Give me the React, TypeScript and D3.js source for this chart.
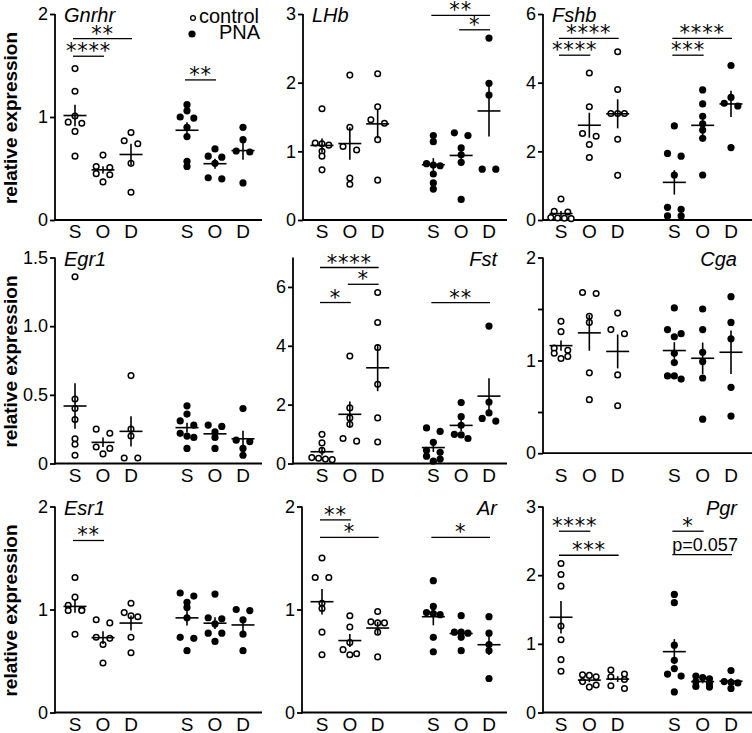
import React, { useEffect, useRef } from 'react';
import * as d3 from 'd3';

const categories = ['S', 'O', 'D'];
const groups = ['control', 'PNA'];

// relative expression per animal, rows are S, O, D
const gnrhrControl = [
  [1.47, 1.25, 1.01, 0.95, 0.94, 0.86, 0.62],
  [0.63, 0.52, 0.51, 0.45, 0.44, 0.37],
  [0.85, 0.77, 0.74, 0.55, 0.27],
];
const gnrhrPNA = [
  [1.12, 1.06, 1.0, 0.99, 0.9, 0.81, 0.57, 0.52],
  [0.69, 0.62, 0.61, 0.55, 0.41, 0.4],
  [0.9, 0.78, 0.67, 0.66, 0.36],
];
const lhbControl = [
  [1.62, 1.12, 1.11, 1.09, 1.0, 0.93, 0.73],
  [2.11, 1.35, 1.07, 1.02, 0.61, 0.52],
  [2.13, 1.65, 1.46, 1.41, 1.17, 0.58],
];
const lhbPNA = [
  [1.23, 1.14, 0.82, 0.8, 0.79, 0.67, 0.54, 0.45],
  [1.27, 1.23, 1.05, 0.95, 0.84, 0.3],
  [2.65, 1.99, 1.82, 0.74, 0.74],
];
const fshbControl = [
  [0.61, 0.25, 0.23, 0.07, 0.06, 0.05, 0.04],
  [4.28, 3.3, 2.52, 2.44, 2.2, 1.82],
  [4.9, 3.8, 3.1, 3.1, 3.1, 2.35, 1.3],
];
const fshbPNA = [
  [2.74, 1.94, 1.86, 1.31, 0.37, 0.31, 0.12, 0.12],
  [3.79, 3.38, 3.02, 2.8, 2.62, 2.38, 1.31],
  [4.5, 3.57, 3.4, 3.32, 2.11],
];
const egr1Control = [
  [1.36, 0.47, 0.4, 0.32, 0.18, 0.14, 0.06],
  [0.25, 0.22, 0.12, 0.11, 0.07],
  [0.64, 0.25, 0.2, 0.04, 0.04],
];
const egr1PNA = [
  [0.42, 0.36, 0.31, 0.28, 0.22, 0.2, 0.19, 0.11],
  [0.28, 0.27, 0.23, 0.19, 0.11],
  [0.4, 0.17, 0.16, 0.11, 0.06],
];
const fstControl = [
  [0.99, 0.7, 0.45, 0.2, 0.18, 0.15, 0.13],
  [3.65, 1.89, 1.55, 1.33, 0.85, 0.76],
  [5.81, 4.79, 3.94, 2.69, 1.55, 0.73],
];
const fstPNA = [
  [1.21, 1.09, 0.72, 0.45, 0.38, 0.25, 0.15, 0.08],
  [2.07, 1.59, 1.3, 0.99, 0.97, 0.85],
  [4.67, 2.09, 1.72, 1.53, 1.44],
];
const cgaControl = [
  [1.38, 1.28, 1.12, 1.1, 1.07, 1.04, 1.02],
  [1.66, 1.65, 1.43, 1.37, 0.88, 0.62],
  [1.46, 1.3, 1.26, 0.86, 0.56],
];
const cgaPNA = [
  [1.51, 1.3, 1.26, 1.23, 1.07, 0.98, 0.85, 0.85, 0.82],
  [1.5, 1.3, 1.08, 0.99, 0.83, 0.43],
  [1.62, 1.37, 1.21, 0.74, 0.46],
];
const esr1Control = [
  [1.31, 1.12, 1.04, 1.0, 0.99, 0.99, 0.76],
  [0.9, 0.87, 0.73, 0.72, 0.66, 0.48],
  [1.06, 0.97, 0.94, 0.93, 0.73, 0.58],
];
const esr1PNA = [
  [1.16, 1.13, 1.07, 1.02, 0.92, 0.73, 0.72, 0.6],
  [1.15, 0.92, 0.91, 0.86, 0.77, 0.77, 0.69],
  [1.0, 0.99, 0.9, 0.76, 0.6],
];
const arControl = [
  [1.5, 1.31, 1.31, 1.06, 1.01, 0.78, 0.56],
  [0.94, 0.83, 0.68, 0.61, 0.57, 0.56],
  [0.98, 0.88, 0.87, 0.87, 0.78, 0.54],
];
const arPNA = [
  [1.28, 1.03, 0.97, 0.96, 0.95, 0.73, 0.59],
  [0.94, 0.78, 0.78, 0.77, 0.73, 0.6],
  [0.93, 0.77, 0.66, 0.6, 0.33],
];
const pgrControl = [
  [2.17, 2.01, 1.84, 1.26, 1.06, 0.77, 0.6],
  [0.55, 0.54, 0.52, 0.45, 0.4, 0.37],
  [0.62, 0.56, 0.52, 0.48, 0.39, 0.35],
];
const pgrPNA = [
  [1.72, 1.6, 0.98, 0.76, 0.64, 0.56, 0.53, 0.3],
  [0.53, 0.51, 0.49, 0.45, 0.42, 0.38, 0.37],
  [0.61, 0.45, 0.44, 0.43, 0.35],
];

// significance brackets: group (0 control, 1 PNA), from/to category, label, level in data units
interface Sig {
  group: number;
  from: number;
  to: number;
  label: string;
  level: number;
}
const gnrhrSig: Sig[] = [
  { group: 0, from: 0, to: 2, label: '**', level: 1.76 },
  { group: 0, from: 0, to: 1, label: '****', level: 1.59 },
  { group: 1, from: 0, to: 1, label: '**', level: 1.36 },
];
const lhbSig: Sig[] = [
  { group: 1, from: 0, to: 2, label: '**', level: 2.98 },
  { group: 1, from: 1, to: 2, label: '*', level: 2.77 },
];
const fshbSig: Sig[] = [
  { group: 0, from: 0, to: 2, label: '****', level: 5.29 },
  { group: 0, from: 0, to: 1, label: '****', level: 4.8 },
  { group: 1, from: 0, to: 2, label: '****', level: 5.29 },
  { group: 1, from: 0, to: 1, label: '***', level: 4.8 },
];
const fstSig: Sig[] = [
  { group: 0, from: 0, to: 2, label: '****', level: 6.66 },
  { group: 0, from: 1, to: 2, label: '*', level: 6.09 },
  { group: 0, from: 0, to: 1, label: '*', level: 5.47 },
  { group: 1, from: 0, to: 2, label: '**', level: 5.47 },
];
const esr1Sig: Sig[] = [{ group: 0, from: 0, to: 1, label: '**', level: 1.67 }];
const arSig: Sig[] = [
  { group: 0, from: 0, to: 1, label: '**', level: 1.87 },
  { group: 0, from: 0, to: 2, label: '*', level: 1.7 },
  { group: 1, from: 0, to: 2, label: '*', level: 1.7 },
];
const pgrSig: Sig[] = [
  { group: 0, from: 0, to: 1, label: '****', level: 2.64 },
  { group: 0, from: 0, to: 2, label: '***', level: 2.29 },
  { group: 1, from: 0, to: 1, label: '*', level: 2.64 },
  { group: 1, from: 0, to: 2, label: 'p=0.057', level: 2.3 },
];

const FONT = "'Liberation Sans', Arial, Helvetica, sans-serif";
const W = 752;
const H = 733;

// layout
const cols = [
  { ax: 55, x0: 75, x1: 243, end: 262, titleEnd: 250 },
  { ax: 302, x0: 322, x1: 489, end: 507, titleEnd: 497 },
  { ax: 543, x0: 561, x1: 731, end: 752, titleEnd: 737 },
];
const rowBase = [220, 463.5, 712.5];
const axisHeight = 206;

interface Panel {
  gene: string;
  row: number;
  col: number;
  control: number[][];
  pna: number[][];
  sig: Sig[];
  yMax: number;
  ticks: number[];
  format?: (d: number) => string;
  floor?: number;
  ax?: number;
  title: 'start' | 'end';
}

const intFmt = (d: number) => String(d);

const panels: Panel[] = [
  { gene: 'Gnrhr', row: 0, col: 0, control: gnrhrControl, pna: gnrhrPNA, sig: gnrhrSig, yMax: 2, ticks: [0, 1, 2], title: 'start' },
  { gene: 'LHb', row: 0, col: 1, control: lhbControl, pna: lhbPNA, sig: lhbSig, yMax: 3, ticks: [0, 1, 2, 3], title: 'start', ax: 303 },
  { gene: 'Fshb', row: 0, col: 2, control: fshbControl, pna: fshbPNA, sig: fshbSig, yMax: 6, ticks: [0, 2, 4, 6], title: 'start' },
  {
    gene: 'Egr1', row: 1, col: 0, control: egr1Control, pna: egr1PNA, sig: [], yMax: 1.5, ticks: [0, 0.5, 1, 1.5], title: 'start',
    format: (d) => (d === 0 ? '0' : d3.format('.1f')(d)),
  },
  { gene: 'Fst', row: 1, col: 1, control: fstControl, pna: fstPNA, sig: fstSig, yMax: 7, ticks: [0, 2, 4, 6], title: 'end', ax: 293 },
  {
    gene: 'Cga', row: 1, col: 2, control: cgaControl, pna: cgaPNA, sig: [], yMax: 2, floor: 0.1, ticks: [0.1, 0.5, 1, 1.5, 2], title: 'end',
    format: (d) => (d === 0.1 ? '0' : d % 1 === 0 ? String(d) : ''),
  },
  { gene: 'Esr1', row: 2, col: 0, control: esr1Control, pna: esr1PNA, sig: esr1Sig, yMax: 2, ticks: [0, 1, 2], title: 'start' },
  { gene: 'Ar', row: 2, col: 1, control: arControl, pna: arPNA, sig: arSig, yMax: 2, ticks: [0, 1, 2], title: 'end' },
  { gene: 'Pgr', row: 2, col: 2, control: pgrControl, pna: pgrPNA, sig: pgrSig, yMax: 3, ticks: [0, 1, 2, 3], title: 'end' },
];

// spread points that sit at about the same height sideways
function swarm(values: number[], y: (v: number) => number, step = 6.8, gap = 4.5) {
  const sorted = values.map((v) => ({ v, py: y(v) })).sort((a, b) => a.py - b.py);
  const rows: { v: number; py: number }[][] = [];
  sorted.forEach((p) => {
    const row = rows[rows.length - 1];
    if (row && p.py - row[0].py < gap) row.push(p);
    else rows.push([p]);
  });
  const out: { v: number; py: number; dx: number }[] = [];
  rows.forEach((row) => {
    const n = row.length;
    row.forEach((p, i) => {
      const dx = n === 2 ? (i === 0 ? -step : step) : (i - (n - 1) / 2) * step;
      out.push({ ...p, dx });
    });
  });
  return out;
}

function drawPanel(svg: any, p: Panel) {
  const col = cols[p.col];
  const ax = p.ax ?? col.ax;
  const y0 = rowBase[p.row];
  const y = d3.scaleLinear().domain([0, p.yMax]).range([y0, y0 - axisHeight]);
  const floorY = y(p.floor ?? 0);
  const x = d3.scaleLinear().domain([0, 6]).range([col.x0, col.x1]);
  const slot = (g: number, c: number) => g * 4 + c;

  const g = svg.append('g');

  // axis lines
  g.append('line')
    .attr('x1', ax).attr('x2', ax)
    .attr('y1', floorY + 0.9).attr('y2', y(p.yMax))
    .attr('stroke', '#000').attr('stroke-width', 1.8);
  g.append('line')
    .attr('x1', ax).attr('x2', col.end)
    .attr('y1', floorY).attr('y2', floorY)
    .attr('stroke', '#000').attr('stroke-width', 1.8);

  const yAxis = d3
    .axisLeft(y)
    .tickValues(p.ticks)
    .tickSize(5)
    .tickSizeOuter(0)
    .tickPadding(2)
    .tickFormat((d: any) => (p.format ?? intFmt)(d));
  const ag = g.append('g').attr('transform', `translate(${ax},0)`).call(yAxis);
  ag.select('.domain').remove();
  ag.attr('font-size', 18).attr('font-family', FONT);
  ag.selectAll('line').attr('stroke-width', 1.8);
  ag.selectAll('text').attr('fill', '#000');

  // category labels
  groups.forEach((_, gi) => {
    categories.forEach((c, ci) => {
      g.append('text')
        .attr('x', x(slot(gi, ci)))
        .attr('y', y0 + 18)
        .attr('text-anchor', 'middle')
        .attr('font-family', FONT)
        .attr('font-size', 19)
        .text(c);
    });
  });

  // gene title
  g.append('text')
    .attr('x', p.title === 'start' ? ax + 9 : col.titleEnd)
    .attr('y', y0 - 198)
    .attr('text-anchor', p.title)
    .attr('font-family', FONT)
    .attr('font-style', 'italic')
    .attr('font-size', 20)
    .text(p.gene);

  // dots, then mean +/- SEM
  [p.control, p.pna].forEach((data, gi) => {
    data.forEach((vals, ci) => {
      const cx = x(slot(gi, ci));
      const pts = swarm(vals, y);
      g.append('g')
        .selectAll('circle')
        .data(pts)
        .join('circle')
        .attr('cx', (d: any) => cx + d.dx)
        .attr('cy', (d: any) => d.py)
        .attr('r', gi === 0 ? 2.8 : 3.6)
        .attr('fill', gi === 0 ? '#fff' : '#000')
        .attr('stroke', '#000')
        .attr('stroke-width', gi === 0 ? 1.5 : 0);

      const m = d3.mean(vals) as number;
      const se = (d3.deviation(vals) as number) / Math.sqrt(vals.length);
      g.append('line')
        .attr('x1', cx - 11.5).attr('x2', cx + 11.5)
        .attr('y1', y(m)).attr('y2', y(m))
        .attr('stroke', '#000').attr('stroke-width', 1.6);
      g.append('line')
        .attr('x1', cx).attr('x2', cx)
        .attr('y1', y(m - se)).attr('y2', y(m + se))
        .attr('stroke', '#000').attr('stroke-width', 1.6);
    });
  });

  // significance bars
  p.sig.forEach((s) => {
    const xa = x(slot(s.group, s.from)) - 2;
    const xb = x(slot(s.group, s.to)) + 1;
    const ly = y(s.level);
    g.append('line')
      .attr('x1', xa).attr('x2', xb)
      .attr('y1', ly).attr('y2', ly)
      .attr('stroke', '#000').attr('stroke-width', 1.3);
    if (s.label.startsWith('p')) {
      g.append('text')
        .attr('x', xa)
        .attr('y', ly - 4)
        .attr('font-family', FONT)
        .attr('font-size', 18)
        .text(s.label);
    } else {
      g.append('text')
        .attr('x', (xa + xb) / 2)
        .attr('y', ly + 2)
        .attr('text-anchor', 'middle')
        .attr('font-family', "'DejaVu Sans', sans-serif")
        .attr('font-size', 21)
        .attr('letter-spacing', 0.8)
        .text(s.label);
    }
  });
}

export default function App() {
  const ref = useRef<SVGSVGElement>(null);

  useEffect(() => {
    const svg = d3.select(ref.current);
    svg.selectAll('*').remove();

    svg.append('rect').attr('width', W).attr('height', H).attr('fill', '#fff');

    panels.forEach((p) => drawPanel(svg, p));

    // y titles, one per row
    rowBase.forEach((y0) => {
      svg
        .append('text')
        .attr('transform', `translate(17,${y0 - 102}) rotate(-90)`)
        .attr('text-anchor', 'middle')
        .attr('font-family', FONT)
        .attr('font-weight', 'bold')
        .attr('font-size', 19)
        .text('relative expression');
    });

    // legend
    const lg = svg.append('g');
    lg.append('circle').attr('cx', 193).attr('cy', 18).attr('r', 2.4)
      .attr('fill', '#fff').attr('stroke', '#000').attr('stroke-width', 1.3);
    lg.append('text').attr('x', 199).attr('y', 22.5)
      .attr('font-family', FONT).attr('font-size', 20).text(groups[0]);
    lg.append('circle').attr('cx', 192).attr('cy', 34).attr('r', 3.6).attr('fill', '#000');
    lg.append('text').attr('x', 260).attr('y', 38.5).attr('text-anchor', 'end')
      .attr('font-family', FONT).attr('font-size', 20).text(groups[1]);
  }, []);

  return (
    <svg
      ref={ref}
      width={W}
      height={H}
      style={{ position: 'absolute', left: 0, top: 0, display: 'block' }}
    />
  );
}
